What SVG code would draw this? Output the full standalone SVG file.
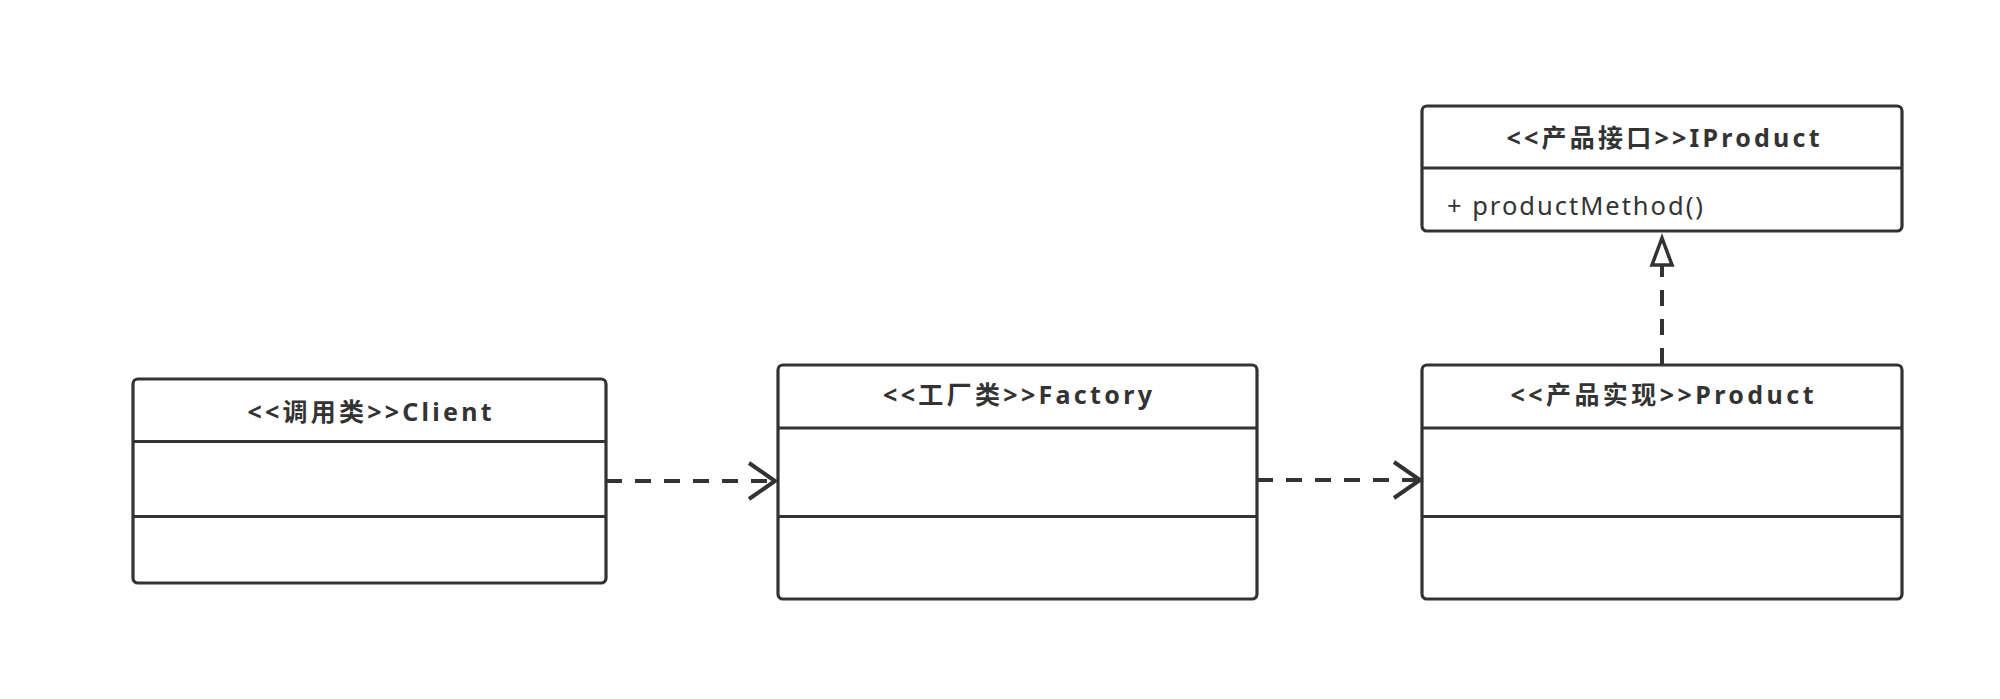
<svg xmlns="http://www.w3.org/2000/svg" width="2000" height="699" viewBox="0 0 2000 699">
<style>
.box{fill:#fff;stroke:#333;stroke-width:3.2}
.div{stroke:#333;stroke-width:3.2}
.title{font-family:"Noto Sans","Noto Sans CJK SC",sans-serif;font-weight:bold;font-size:25px;fill:#333;text-anchor:middle}
.member{font-family:"Noto Sans","Noto Sans CJK SC",sans-serif;font-size:25.5px;fill:#333}
.dash{stroke:#333;stroke-width:4;stroke-dasharray:16 13;fill:none}
.head{stroke:#333;stroke-width:4;fill:none;stroke-linejoin:miter}
.tri{stroke:#333;stroke-width:3.5;fill:#fff}
</style>
<rect width="2000" height="699" fill="#fff"/>
<g id="client">
<rect class="box" x="133" y="379" width="473" height="204" rx="5"/>
<line class="div" x1="133" y1="441.5" x2="606" y2="441.5"/>
<line class="div" x1="133" y1="516.5" x2="606" y2="516.5"/>
<text class="title" x="369.5" y="421" textLength="244" lengthAdjust="spacing">&lt;&lt;调用类&gt;&gt;Client</text>
</g>
<g id="factory">
<rect class="box" x="778" y="365" width="479" height="234" rx="5"/>
<line class="div" x1="778" y1="428" x2="1257" y2="428"/>
<line class="div" x1="778" y1="516.5" x2="1257" y2="516.5"/>
<text class="title" x="1017.5" y="404" textLength="269" lengthAdjust="spacing">&lt;&lt;工厂类&gt;&gt;Factory</text>
</g>
<g id="product">
<rect class="box" x="1422" y="365" width="480" height="234" rx="5"/>
<line class="div" x1="1422" y1="428" x2="1902" y2="428"/>
<line class="div" x1="1422" y1="516.5" x2="1902" y2="516.5"/>
<text class="title" x="1662" y="404" textLength="303" lengthAdjust="spacing">&lt;&lt;产品实现&gt;&gt;Product</text>
</g>
<g id="iproduct">
<rect class="box" x="1422" y="106" width="480" height="125" rx="5"/>
<line class="div" x1="1422" y1="168" x2="1902" y2="168"/>
<text class="title" x="1663" y="147" textLength="313" lengthAdjust="spacing">&lt;&lt;产品接口&gt;&gt;IProduct</text>
<text class="member" x="1447" y="215" textLength="256" lengthAdjust="spacing">+ productMethod()</text>
</g>
<g id="connectors">
<line class="dash" x1="606" y1="481" x2="774" y2="481"/>
<polyline class="head" points="749,463 775,481 749,499"/>
<line class="dash" x1="1257" y1="480" x2="1419" y2="480"/>
<polyline class="head" points="1394,462 1420,480 1394,498"/>
<line class="dash" x1="1662" y1="364" x2="1662" y2="265"/>
<polygon class="tri" points="1662,238 1652,265 1672,265"/>
</g>
</svg>
